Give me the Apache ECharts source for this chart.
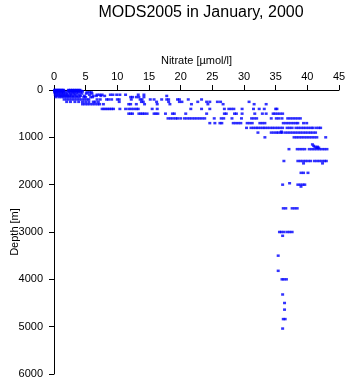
<!DOCTYPE html>
<html>
<head>
<meta charset="utf-8">
<script src="https://cdn.jsdelivr.net/npm/echarts@6/dist/echarts.min.js"></script>
<style>html,body{margin:0;padding:0;background:#fff}#c{width:348px;height:384px}</style>
</head>
<body>
<div id="c"></div>
<script>
const titleText = 'MODS2005 in January, 2000';
const xName = 'Nitrate [\u00b5mol/l]';
const yName = 'Depth [m]';
const xTicks = [0, 5, 10, 15, 20, 25, 30, 35, 40, 45];
const yTicks = [0, 1000, 2000, 3000, 4000, 5000, 6000];

// depth levels (m) and nitrate observations (umol/l) at each level
const depthLevels = [0, 10, 20, 30, 50, 75, 100, 125, 150, 200, 250, 300, 400, 500, 600, 700, 800, 880, 900, 1000, 1150, 1180, 1200, 1220, 1250, 1500, 1550, 1750, 1970, 2000, 2040, 2500, 3000, 3080, 3500, 3820, 4000, 4320, 4500, 4640, 4840, 5040];
const nitrateByLevel = [
  [0.1, 0.3, 0.5, 0.7, 0.9, 1.1, 1.3, 1.5, 2.3, 2.6, 2.9, 3.2, 3.5, 3.8, 4.1],
  [0.2, 0.4, 0.6, 0.8, 1.0, 1.2, 1.4, 2.4, 2.8, 3.0, 3.4, 3.7, 4.0],
  [0.1, 0.5, 0.9, 1.3, 1.6, 2.2, 2.7, 3.1, 3.6, 4.3],
  [0.2, 0.6, 1.0, 1.4, 2.5, 3.0, 3.5, 3.9, 4.5],
  [0.1, 0.4, 0.8, 1.2, 1.5, 1.9, 2.4, 2.9, 3.3, 3.8, 4.2, 5.2, 5.6, 5.9],
  [0.3, 0.7, 1.1, 1.5, 2.0, 2.6, 3.1, 3.6, 4.4, 5.1, 6.0],
  [0.2, 0.6, 1.0, 1.4, 1.8, 2.2, 2.7, 3.3, 4.0, 5.6, 6.8, 7.2, 7.6, 8.9, 9.3, 9.9, 10.4, 11.3, 13.3, 14.2],
  [0.4, 0.9, 1.3, 1.7, 2.1, 2.5, 3.0, 3.6, 4.2, 4.8, 6.2, 6.7, 7.4, 8.0, 17.8],
  [0.3, 0.8, 1.2, 1.6, 2.0, 2.4, 2.8, 3.2, 3.6, 4.0, 4.7, 5.0, 5.8, 6.1, 12.1, 12.4, 13.0, 13.4, 14.2],
  [1.6, 2.0, 2.4, 2.8, 3.2, 3.6, 4.0, 4.4, 4.8, 5.2, 5.5, 6.8, 7.3, 8.3, 8.6, 9.1, 10.0, 10.3, 12.2, 13.6, 13.9, 15.2, 15.8, 17.0, 17.8, 18.1, 19.5, 19.8, 21.2, 23.3],
  [2.0, 2.6, 3.3, 3.9, 4.5, 5.0, 5.5, 6.2, 6.5, 7.0, 10.3, 13.8, 14.1, 16.2, 18.1, 19.8, 20.2, 22.7, 24.1, 24.6, 25.8, 26.3, 30.8],
  [4.5, 4.9, 5.3, 5.7, 6.1, 6.5, 6.9, 7.2, 7.8, 11.8, 12.1, 13.0, 14.3, 16.3, 18.3, 21.7, 24.3, 26.7, 31.6, 33.5],
  [7.6, 7.9, 8.2, 8.5, 8.8, 9.1, 9.4, 10.4, 11.3, 11.8, 12.2, 12.6, 13.0, 13.3, 15.5, 16.3, 21.6, 23.3, 24.6, 26.9, 27.6, 28.0, 28.4, 29.7, 31.5, 32.4, 33.2, 35.0, 35.2],
  [11.8, 12.1, 12.4, 13.4, 13.7, 14.0, 14.3, 14.7, 15.8, 16.1, 16.4, 17.6, 18.7, 19.0, 20.8, 24.1, 26.9, 27.2, 28.5, 28.8, 29.7, 31.7, 32.9, 33.5, 34.6, 34.9, 35.3, 35.7, 36.1],
  [18.0, 18.4, 18.8, 19.2, 19.5, 20.0, 20.6, 21.0, 21.4, 21.8, 22.2, 22.6, 23.0, 23.4, 23.8, 25.3, 26.4, 26.8, 28.1, 29.6, 31.2, 31.6, 32.0, 34.3, 35.1, 35.5, 36.0, 36.9, 37.3, 37.7, 38.1, 38.5, 38.9],
  [24.6, 25.4, 26.2, 26.5, 28.3, 28.7, 29.1, 29.5, 30.5, 30.9, 31.3, 32.5, 32.9, 33.3, 36.2, 36.6, 37.0, 37.4, 37.8, 38.2, 38.5, 39.4, 39.9],
  [30.4, 31.1, 31.5, 31.9, 32.2, 32.6, 33.0, 33.3, 33.7, 34.1, 34.5, 34.9, 35.3, 35.7, 36.1, 36.8, 37.2, 37.6, 38.2, 38.6, 39.0, 39.4, 39.8, 40.2, 40.6, 40.9, 41.4, 41.8, 42.1],
  [35.9],
  [32.2, 34.3, 34.7, 35.1, 35.4, 35.8, 36.0, 36.5, 36.9, 37.3, 37.7, 38.1, 38.5, 38.9, 39.3, 39.7, 40.1, 40.5, 40.9, 41.3],
  [33.3, 37.9, 38.3, 38.7, 39.1, 39.5, 39.9, 40.3, 40.7, 41.1, 41.5, 42.9],
  [40.8],
  [41.0],
  [41.2, 41.6],
  [41.5, 41.8],
  [37.1, 38.4, 38.8, 39.2, 39.6, 40.3, 40.7, 41.1, 41.5, 41.9, 42.3, 42.7, 43.1],
  [36.3, 38.5, 38.9, 39.3, 39.7, 40.1, 40.5, 41.1, 41.5, 41.9, 42.3, 42.7, 43.0],
  [39.4, 42.4],
  [39.0, 39.4, 40.1],
  [37.2],
  [36.1, 38.5, 38.9, 39.3, 39.6],
  [39.0],
  [36.2, 36.6, 37.6, 38.0, 38.4],
  [35.6, 35.9, 36.3, 36.8, 37.2, 37.6],
  [36.1],
  [35.4],
  [35.4],
  [36.0, 36.3, 36.7],
  [36.1],
  [36.4],
  [36.4],
  [36.2, 36.5],
  [36.1]
];

const points = [];
depthLevels.forEach((d, i) => nitrateByLevel[i].forEach(v => points.push([v, d])));

const FONT = 'Liberation Sans, Arial, Helvetica, sans-serif';
const chart = echarts.init(document.getElementById('c'), null, {renderer: 'canvas'});
chart.setOption({
  animation: false,
  backgroundColor: '#ffffff',
  title: {
    text: titleText, left: 196, top: 0, textAlign: 'center',
    textStyle: {fontFamily: FONT, fontSize: 16, fontWeight: 'normal', color: '#000'}
  },
  grid: {left: 54, right: 9, top: 90, bottom: 10, containLabel: false, outerBoundsMode: 'none'},
  xAxis: {
    type: 'value', position: 'top', min: xTicks[0], max: xTicks[xTicks.length - 1], interval: 5,
    name: xName, nameLocation: 'middle', nameGap: 24, nameMoveOverlap: false,
    nameTextStyle: {fontFamily: FONT, fontSize: 11, color: '#000'},
    axisLine: {show: true, onZero: false, lineStyle: {color: '#000', width: 1}},
    axisTick: {show: true, inside: false, length: 5, lineStyle: {color: '#000'}},
    axisLabel: {fontFamily: FONT, fontSize: 11, color: '#000', margin: 8, formatter: v => String(v)},
    splitLine: {show: false}
  },
  yAxis: {
    type: 'value', inverse: true, min: yTicks[0], max: yTicks[yTicks.length - 1], interval: 1000,
    name: yName, nameLocation: 'middle', nameGap: 34, nameMoveOverlap: false,
    nameTextStyle: {fontFamily: FONT, fontSize: 11, color: '#000'},
    axisLine: {show: true, onZero: false, lineStyle: {color: '#000', width: 1}},
    axisTick: {show: true, inside: false, length: 5, lineStyle: {color: '#000'}},
    axisLabel: {fontFamily: FONT, fontSize: 11, color: '#000', margin: 11, formatter: v => String(v)},
    splitLine: {show: false}
  },
  series: [{
    type: 'scatter', data: points, symbol: 'rect', symbolSize: [3, 2.5],
    itemStyle: {color: '#0000ff'}, clip: false
  }]
});
</script>
</body>
</html>
